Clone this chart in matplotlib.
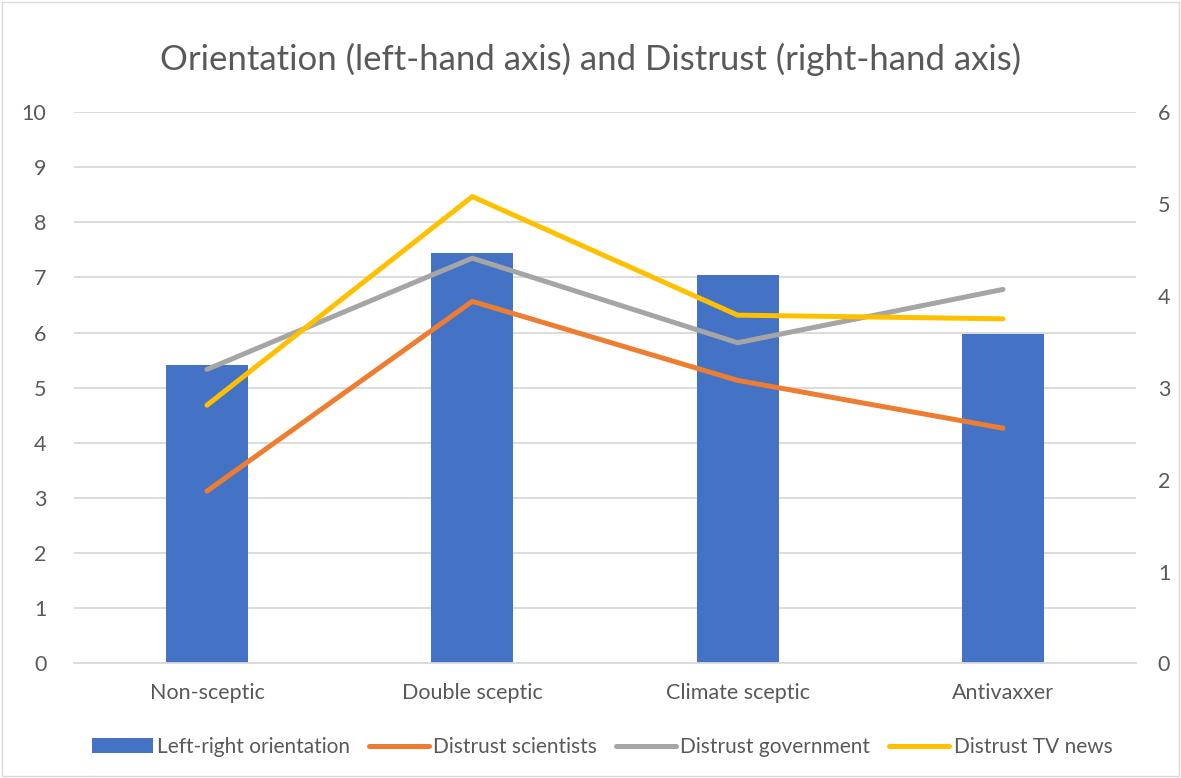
import matplotlib.pyplot as plt
import numpy as np
from matplotlib.patches import Rectangle

plt.rcParams['font.family'] = ['Lato', 'DejaVu Sans']

categories = ['Non-sceptic', 'Double sceptic', 'Climate sceptic', 'Antivaxxer']
orientation = [5.41, 7.45, 7.05, 5.98]
distrust_scientists = [1.875, 3.94, 3.08, 2.56]
distrust_government = [3.20, 4.41, 3.49, 4.07]
distrust_tv = [2.81, 5.08, 3.79, 3.75]

txt = '#595959'
grid = '#d9d9d9'

fig = plt.figure(figsize=(11.81, 7.78), dpi=100)
fig.patches.append(Rectangle((0.002, 0.002), 0.996, 0.996, transform=fig.transFigure,
                             fill=False, edgecolor='#d9d9d9', lw=1))
ax = fig.add_axes([0.0629, 0.1472, 0.8987, 0.7088])
x = np.arange(len(categories))

ax.bar(x, orientation, width=0.31, color='#4472c4', label='Left-right orientation', zorder=2)
ax.set_ylim(0, 10)
ax.set_xlim(-0.5, len(categories) - 0.5)
ax.set_yticks(range(0, 11))
ax.yaxis.grid(True, color=grid, lw=1.3, zorder=0)
ax.set_axisbelow(True)
ax.set_xticks(x)
ax.set_xticklabels(categories)
for s in ax.spines.values():
    s.set_visible(False)
ax.spines['bottom'].set_visible(True)
ax.spines['bottom'].set_color(grid)
ax.spines['bottom'].set_linewidth(1.3)
ax.tick_params(axis='both', length=0, colors=txt, labelsize=15.5)
ax.tick_params(axis='y', pad=20)
ax.tick_params(axis='x', pad=14)

ax2 = ax.twinx()
ax2.set_ylim(0, 6)
ax2.set_yticks(range(0, 7))
for s in ax2.spines.values():
    s.set_visible(False)
ax2.tick_params(axis='y', length=0, colors=txt, labelsize=15.5, pad=16)

ax2.plot(x, distrust_scientists, color='#ed7d31', lw=3.6, solid_capstyle='round', label='Distrust scientists')
ax2.plot(x, distrust_government, color='#a5a5a5', lw=3.6, solid_capstyle='round', label='Distrust government')
ax2.plot(x, distrust_tv, color='#ffc000', lw=3.6, solid_capstyle='round', label='Distrust TV news')

fig.suptitle('Orientation (left-hand axis) and Distrust (right-hand axis)', y=0.945,
             fontsize=25, color=txt)

h1, l1 = ax.get_legend_handles_labels()
h2, l2 = ax2.get_legend_handles_labels()
fig.legend(h1 + h2, l1 + l2, loc='center', bbox_to_anchor=(0.51, 0.04), ncol=4,
           frameon=False, fontsize=15, labelcolor=txt, handlelength=2.9,
           handletextpad=0.2, columnspacing=0.9)

fig.savefig('out.png', dpi=100)
